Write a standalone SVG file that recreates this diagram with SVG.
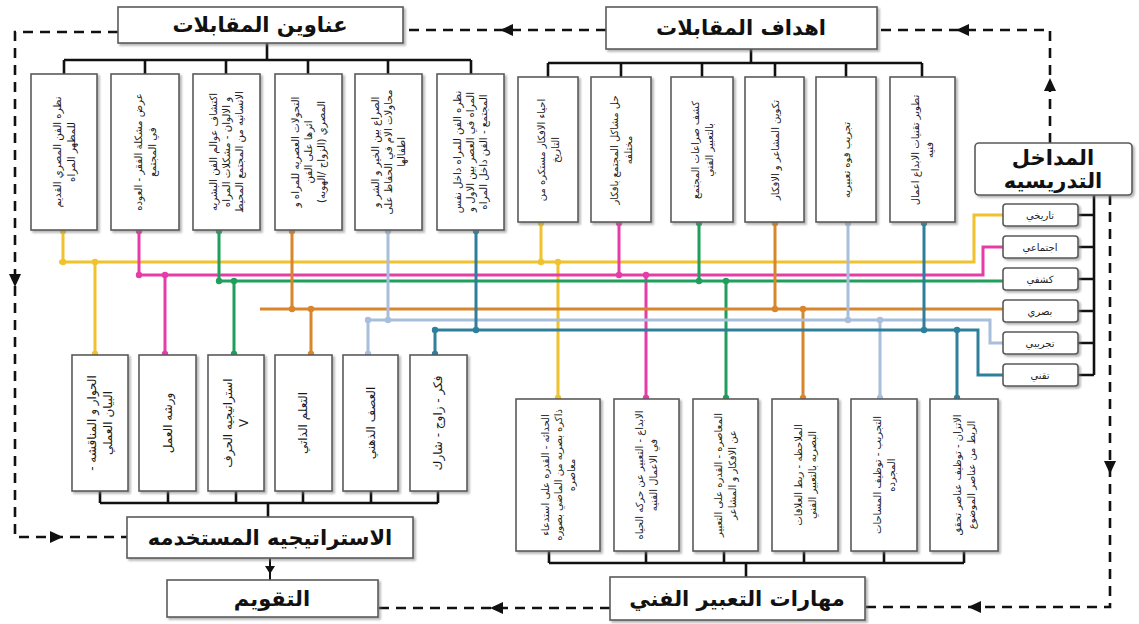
<svg xmlns="http://www.w3.org/2000/svg" width="1139" height="624" viewBox="0 0 1139 624">
<defs>
<filter id="sh" x="-10%" y="-10%" width="130%" height="130%">
<feDropShadow dx="2" dy="2" stdDeviation="1.2" flood-color="#777" flood-opacity="0.55"/>
</filter>
<style>
.box{fill:#fff;stroke:#5a5a5a;stroke-width:1.6;filter:url(#sh)}
.rbox{fill:#fff;stroke:#5a5a5a;stroke-width:1.6;filter:url(#sh)}
.tt{font-family:"DejaVu Sans",sans-serif;font-weight:bold;font-size:21px;fill:#111;text-anchor:middle;dominant-baseline:central}
.vt{font-family:"DejaVu Sans",sans-serif;font-size:10.2px;fill:#1a1a1a;text-anchor:middle;dominant-baseline:central}
.vr{font-family:"DejaVu Sans",sans-serif;font-size:10px;fill:#1a1a1a;text-anchor:middle;dominant-baseline:central}
.vs{font-family:"DejaVu Sans",sans-serif;font-size:12px;fill:#1a1a1a;text-anchor:middle;dominant-baseline:central}
.it{font-family:"DejaVu Sans",sans-serif;font-size:10px;fill:#222;text-anchor:middle;dominant-baseline:central}
.bus{fill:none;stroke:#111;stroke-width:2.6}
.dash{fill:none;stroke:#111;stroke-width:2.6;stroke-dasharray:10 7}
.ah{fill:#111}
.c1{stroke:#F0C22E}.c2{stroke:#E63CA8}.c3{stroke:#1F9E5C}.c4{stroke:#D9852B}.c5{stroke:#A8BEDA}.c6{stroke:#2E7F9C}
.f1{fill:#F0C22E}.f2{fill:#E63CA8}.f3{fill:#1F9E5C}.f4{fill:#D9852B}.f5{fill:#A8BEDA}.f6{fill:#2E7F9C}
.cl{fill:none;stroke-width:3}
</style>
</defs>
<rect width="1139" height="624" fill="#fff"/>

<g id="connectors">
<path class="dash" d="M1050,143 V30 H877"/>
<path class="dash" d="M606,30 H403"/>
<path class="dash" d="M118,32 H15 V537 H127"/>
<path class="dash" d="M1110,195 V607 H865"/>
<path class="dash" d="M610,608 H378"/>
<path fill="none" stroke="#111" stroke-width="2" d="M270,558 V580"/>
<polygon class="ah" points="1050,78 1044,91 1056,91"/>
<polygon class="ah" points="956,30 969,24 969,36"/>
<polygon class="ah" points="500,30 513,24 513,36"/>
<polygon class="ah" points="15,287 9,274 21,274"/>
<polygon class="ah" points="63,537 50,531 50,543"/>
<polygon class="ah" points="1110,474 1104,461 1116,461"/>
<polygon class="ah" points="968,607 981,601 981,613"/>
<polygon class="ah" points="490,608 503,602 503,614"/>
<polygon class="ah" points="270,574 265,566 275,566"/>
<path class="bus" d="M267,43 V60 M64,60 H471 M64,60 V74 M145,60 V74 M226,60 V74 M308,60 V74 M388,60 V74 M471,60 V74"/>
<path class="bus" d="M751,49 V63 M548,63 H922 M548,63 V77 M621,63 V77 M702,63 V77 M775,63 V77 M846,63 V77 M922,63 V77"/>
<path class="bus" d="M100,491 V503 M168,491 V503 M236,491 V503 M303,491 V503 M371,491 V503 M438,491 V503 M100,503 H438 M268,503 V517"/>
<path class="bus" d="M549,551 V563 M646,551 V563 M724,551 V563 M804,551 V563 M884,551 V563 M964,551 V563 M549,563 H964 M746,563 V577"/>
<path class="bus" d="M1094,195 V375 M1078,215 H1094 M1078,247 H1094 M1078,279 H1094 M1078,311 H1094 M1078,343 H1094 M1078,375 H1094"/>
<path class="cl c1" d="M1003,215 H974 V262 H59 M63,230 V262 M95,262 V355 M541,222 V262 M558,262 V399"/>
<path class="cl c2" d="M1003,247 H983 V275 H139 M139,230 V275 M165,275 V355 M619,222 V275 M646,275 V399"/>
<path class="cl c3" d="M1003,281 H217 M219,230 V281 M234,281 V355 M699,222 V281 M726,281 V399"/>
<path class="cl c4" d="M1003,309 H260 M292,230 V309 M311,309 V355 M775,222 V309 M803,309 V399"/>
<path class="cl c5" d="M1003,343 H990 V320 H368 M388,230 V320 M368,320 V355 M848,222 V320 M880,320 V399"/>
<path class="cl c6" d="M1003,375 H978 V330 H435 M476,230 V330 M435,330 V355 M924,222 V330 M957,330 V399"/>
<g class="f1"><circle cx="63" cy="231" r="3.2"/><circle cx="63" cy="262" r="3.2"/><circle cx="95" cy="262" r="3.2"/><circle cx="95" cy="354" r="3.2"/><circle cx="541" cy="223" r="3.2"/><circle cx="541" cy="262" r="3.2"/><circle cx="558" cy="262" r="3.2"/><circle cx="558" cy="398" r="3.2"/></g>
<g class="f2"><circle cx="139" cy="231" r="3.2"/><circle cx="139" cy="275" r="3.2"/><circle cx="165" cy="275" r="3.2"/><circle cx="165" cy="354" r="3.2"/><circle cx="619" cy="223" r="3.2"/><circle cx="619" cy="275" r="3.2"/><circle cx="646" cy="275" r="3.2"/><circle cx="646" cy="398" r="3.2"/></g>
<g class="f3"><circle cx="219" cy="231" r="3.2"/><circle cx="219" cy="281" r="3.2"/><circle cx="234" cy="281" r="3.2"/><circle cx="234" cy="354" r="3.2"/><circle cx="699" cy="223" r="3.2"/><circle cx="699" cy="281" r="3.2"/><circle cx="726" cy="281" r="3.2"/><circle cx="726" cy="398" r="3.2"/></g>
<g class="f4"><circle cx="292" cy="231" r="3.2"/><circle cx="292" cy="309" r="3.2"/><circle cx="311" cy="309" r="3.2"/><circle cx="311" cy="354" r="3.2"/><circle cx="775" cy="223" r="3.2"/><circle cx="775" cy="309" r="3.2"/><circle cx="803" cy="309" r="3.2"/><circle cx="803" cy="398" r="3.2"/></g>
<g class="f5"><circle cx="388" cy="231" r="3.2"/><circle cx="388" cy="320" r="3.2"/><circle cx="368" cy="320" r="3.2"/><circle cx="368" cy="354" r="3.2"/><circle cx="848" cy="223" r="3.2"/><circle cx="848" cy="320" r="3.2"/><circle cx="880" cy="320" r="3.2"/><circle cx="880" cy="398" r="3.2"/></g>
<g class="f6"><circle cx="476" cy="231" r="3.2"/><circle cx="476" cy="330" r="3.2"/><circle cx="435" cy="330" r="3.2"/><circle cx="435" cy="354" r="3.2"/><circle cx="924" cy="223" r="3.2"/><circle cx="924" cy="330" r="3.2"/><circle cx="957" cy="330" r="3.2"/><circle cx="957" cy="398" r="3.2"/></g>
</g>

<g id="n-titles"><rect class="box" x="118" y="7" width="285" height="36"/><text class="tt" x="260" y="25">عناوين المقابلات</text></g>
<g id="n-goals"><rect class="box" x="606" y="7" width="271" height="42"/><text class="tt" x="741" y="28">اهداف المقابلات</text></g>
<g id="n-approaches"><rect class="rbox" x="975" y="143" width="157" height="52" rx="4"/><text class="tt" x="1053" y="169" font-size="19"><tspan x="1053" y="158">المداخل</tspan><tspan x="1053" y="181">التدريسيه</tspan></text></g>
<g id="n-strategy"><rect class="box" x="127" y="517" width="286" height="41"/><text class="tt" x="270" y="538">الاستراتيجيه المستخدمه</text></g>
<g id="n-eval"><rect class="box" x="167" y="580" width="211" height="37"/><text class="tt" x="272" y="599" font-size="20">التقويم</text></g>
<g id="n-skills"><rect class="box" x="610" y="577" width="255" height="43"/><text class="tt" x="737" y="599" font-size="23">مهارات التعبير الفني</text></g>

<g id="a1"><rect class="rbox" x="1003" y="204" width="75" height="22" rx="3"/><text class="it" x="1040" y="215">تاريخي</text></g>
<g id="a2"><rect class="rbox" x="1003" y="236" width="75" height="22" rx="3"/><text class="it" x="1040" y="247">اجتماعي</text></g>
<g id="a3"><rect class="rbox" x="1003" y="268" width="75" height="22" rx="3"/><text class="it" x="1040" y="279">كشفي</text></g>
<g id="a4"><rect class="rbox" x="1003" y="300" width="75" height="22" rx="3"/><text class="it" x="1040" y="311">بصري</text></g>
<g id="a5"><rect class="rbox" x="1003" y="332" width="75" height="22" rx="3"/><text class="it" x="1040" y="343">تجريبي</text></g>
<g id="a6"><rect class="rbox" x="1003" y="364" width="75" height="22" rx="3"/><text class="it" x="1040" y="375">تقني</text></g>

<g id="t1"><rect class="box" x="31" y="74" width="66" height="156"/><text class="vt" direction="rtl" transform="translate(64,152) rotate(-90)"><tspan x="0" y="-7">نظره الفن المصري القديم</tspan><tspan x="0" y="7">للمظهر المراه</tspan></text></g>
<g id="t2"><rect class="box" x="111" y="74" width="68" height="156"/><text class="vt" direction="rtl" transform="translate(145,152) rotate(-90)"><tspan x="0" y="-7">عرض مشكلة الفقر - العوده</tspan><tspan x="0" y="7">في المجتمع</tspan></text></g>
<g id="t3"><rect class="box" x="193" y="74" width="67" height="156"/><text class="vt" direction="rtl" transform="translate(226,152) rotate(-90)"><tspan x="0" y="-13">اكتشاف عوالم الفن البشريه</tspan><tspan x="0" y="0">و الالوان - مشكلات المراه</tspan><tspan x="0" y="13">الانسانيه من المجتمع المحيط</tspan></text></g>
<g id="t4"><rect class="box" x="275" y="74" width="67" height="156"/><text class="vt" direction="rtl" transform="translate(308,152) rotate(-90)"><tspan x="0" y="-13">التحولات العصريه للمراه و</tspan><tspan x="0" y="0">اثرها على الفن</tspan><tspan x="0" y="13">المصري (الزواج /الهويه)</tspan></text></g>
<g id="t5"><rect class="box" x="355" y="74" width="67" height="156"/><text class="vt" direction="rtl" transform="translate(388,152) rotate(-90)"><tspan x="0" y="-13">الصراع بين الخير و الشر و</tspan><tspan x="0" y="0">محاولات الام في الحفاظ على</tspan><tspan x="0" y="13">اطفالها</tspan></text></g>
<g id="t6"><rect class="box" x="437" y="74" width="67" height="156"/><text class="vt" direction="rtl" transform="translate(470,152) rotate(-90)"><tspan x="0" y="-13">نظره الفن للمراه داخل نفس</tspan><tspan x="0" y="0">المراه في العصر بين الاول و</tspan><tspan x="0" y="13">المجتمع - الفن داخل المراه</tspan></text></g>

<g id="g1"><rect class="box" x="518" y="77" width="60" height="145"/><text class="vr" direction="rtl" transform="translate(548,150) rotate(-90)"><tspan x="0" y="-7">احياء الافكار مستكره من</tspan><tspan x="0" y="7">التاريخ</tspan></text></g>
<g id="g2"><rect class="box" x="591" y="77" width="60" height="145"/><text class="vr" direction="rtl" transform="translate(621,150) rotate(-90)"><tspan x="0" y="-7">حل مشاكل المجتمع بافكار</tspan><tspan x="0" y="7">مختلفه</tspan></text></g>
<g id="g3"><rect class="box" x="671" y="77" width="62" height="145"/><text class="vr" direction="rtl" transform="translate(702,150) rotate(-90)"><tspan x="0" y="-7">كشف صراعات المجتمع</tspan><tspan x="0" y="7">بالتعبير الفني</tspan></text></g>
<g id="g4"><rect class="box" x="745" y="77" width="59" height="145"/><text class="vr" direction="rtl" transform="translate(775,150) rotate(-90)"><tspan x="0" y="0">تكوين المشاعر و الافكار</tspan></text></g>
<g id="g5"><rect class="box" x="816" y="77" width="60" height="145"/><text class="vr" direction="rtl" transform="translate(846,160) rotate(-90)"><tspan x="0" y="0">تجريب قوه تعبيريه</tspan></text></g>
<g id="g6"><rect class="box" x="890" y="77" width="65" height="145"/><text class="vr" direction="rtl" transform="translate(922,150) rotate(-90)"><tspan x="0" y="-7">تطوير تقنيات الابداع اعمال</tspan><tspan x="0" y="7">فنيه</tspan></text></g>

<g id="s1"><rect class="box" x="72" y="355" width="56" height="136"/><text class="vs" direction="rtl" transform="translate(100,423) rotate(-90)"><tspan x="0" y="-8">الحوار و المناقشه -</tspan><tspan x="0" y="8">البيان العملي</tspan></text></g>
<g id="s2"><rect class="box" x="139" y="355" width="57" height="136"/><text class="vs" direction="rtl" transform="translate(168,423) rotate(-90)"><tspan x="0" y="0">ورشه العمل</tspan></text></g>
<g id="s3"><rect class="box" x="208" y="355" width="56" height="136"/><text class="vs" direction="rtl" transform="translate(236,423) rotate(-90)"><tspan x="0" y="-8">استراتيجيه الحرف</tspan><tspan x="0" y="8">V</tspan></text></g>
<g id="s4"><rect class="box" x="275" y="355" width="57" height="136"/><text class="vs" direction="rtl" transform="translate(303,423) rotate(-90)"><tspan x="0" y="0">التعلم الذاتي</tspan></text></g>
<g id="s5"><rect class="box" x="343" y="355" width="55" height="136"/><text class="vs" direction="rtl" transform="translate(371,423) rotate(-90)"><tspan x="0" y="0">العصف الذهني</tspan></text></g>
<g id="s6"><rect class="box" x="410" y="355" width="57" height="136"/><text class="vs" direction="rtl" transform="translate(438,423) rotate(-90)"><tspan x="0" y="0">فكر - زاوج - شارك</tspan></text></g>

<g id="k1"><rect class="box" x="516" y="399" width="84" height="152"/><text class="vr" direction="rtl" transform="translate(558,475) rotate(-90)"><tspan x="0" y="-13">الحداثه - القدره على استدعاء</tspan><tspan x="0" y="0">ذاكره بصريه من الماضي بصوره</tspan><tspan x="0" y="13">معاصره</tspan></text></g>
<g id="k2"><rect class="box" x="614" y="399" width="65" height="152"/><text class="vr" direction="rtl" transform="translate(646,475) rotate(-90)"><tspan x="0" y="-7">الابداع - التعبير عن حركه الحياه</tspan><tspan x="0" y="7">في الاعمال الفنيه</tspan></text></g>
<g id="k3"><rect class="box" x="693" y="399" width="65" height="152"/><text class="vr" direction="rtl" transform="translate(725,475) rotate(-90)"><tspan x="0" y="-7">المعاصره - القدره على التعبير</tspan><tspan x="0" y="7">عن الافكار و المشاعر</tspan></text></g>
<g id="k4"><rect class="box" x="772" y="399" width="66" height="152"/><text class="vr" direction="rtl" transform="translate(805,475) rotate(-90)"><tspan x="0" y="-7">الملاحظه - ربط العلاقات</tspan><tspan x="0" y="7">البصريه بالتعبير الفني</tspan></text></g>
<g id="k5"><rect class="box" x="851" y="399" width="66" height="152"/><text class="vr" direction="rtl" transform="translate(884,475) rotate(-90)"><tspan x="0" y="-7">التجريب - توظيف المساحات</tspan><tspan x="0" y="7">المجرده</tspan></text></g>
<g id="k6"><rect class="box" x="930" y="399" width="68" height="152"/><text class="vr" direction="rtl" transform="translate(964,475) rotate(-90)"><tspan x="0" y="-7">الاتزان - توظيف عناصر تحقق</tspan><tspan x="0" y="7">الربط من عناصر الموضوع</tspan></text></g>
</svg>
